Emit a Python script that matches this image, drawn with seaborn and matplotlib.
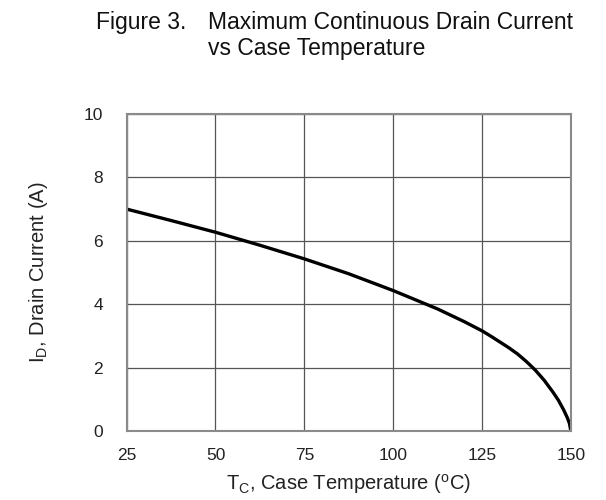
import matplotlib

matplotlib.use("Agg")
import matplotlib.pyplot as plt
import seaborn as sns
import pandas as pd

# values
case_temp = [25, 37.5, 50, 62.5, 75, 87.5, 100, 112.5, 120, 125, 127.5, 130, 132.5, 135, 137.5, 140, 142.5, 145, 146.5, 148, 149, 149.6, 150]
drain_current = [7.0, 6.64, 6.27, 5.86, 5.43, 4.96, 4.43, 3.85, 3.45, 3.16, 2.99, 2.81, 2.63, 2.43, 2.19, 1.92, 1.6, 1.22, 0.97, 0.66, 0.42, 0.24, 0.0]
x_ticks = [25, 50, 75, 100, 125, 150]
y_ticks = [0, 2, 4, 6, 8, 10]

df = pd.DataFrame({"Tc": case_temp, "Id": drain_current})

sns.set_style("white")
plt.rcParams["font.family"] = ["Liberation Sans", "DejaVu Sans"]
plt.rcParams["mathtext.fontset"] = "custom"
plt.rcParams["mathtext.rm"] = "Liberation Sans"

fig = plt.figure(figsize=(6.06, 5.0), dpi=100)
ax = fig.add_axes([0.209, 0.138, 0.733, 0.634])

sns.lineplot(data=df, x="Tc", y="Id", ax=ax, color="black", linewidth=2.4)

ax.set_xlim(25, 150)
ax.set_ylim(0, 10)
ax.set_xticks(x_ticks)
ax.set_yticks(y_ticks)
ax.grid(True, color="#555555", linewidth=0.9)
for s in ax.spines.values():
    s.set_color("#8a8a8a")
    s.set_linewidth(1.5)
ax.tick_params(length=0, labelsize=12.5, colors="#222222")
ax.tick_params(axis="x", pad=12)
ax.tick_params(axis="y", pad=17)

ax.set_xlabel(r"T$_\mathregular{C}$, Case Temperature ($^\mathregular{o}$C)", fontsize=14.5, color="#222222", labelpad=7)
ax.set_ylabel(r"I$_\mathregular{D}$, Drain Current (A)", fontsize=14.5, color="#222222", labelpad=24)

fig.text(0.158, 1 - 29 / 500, "Figure 3.", fontsize=16.5, ha="left", va="baseline", color="#111111")
fig.text(0.343, 1 - 29 / 500, "Maximum Continuous Drain Current", fontsize=16.5, ha="left", va="baseline", color="#111111")
fig.text(0.343, 1 - 55 / 500, "vs Case Temperature", fontsize=16.5, ha="left", va="baseline", color="#111111")

fig.savefig("out.png", dpi=100)
